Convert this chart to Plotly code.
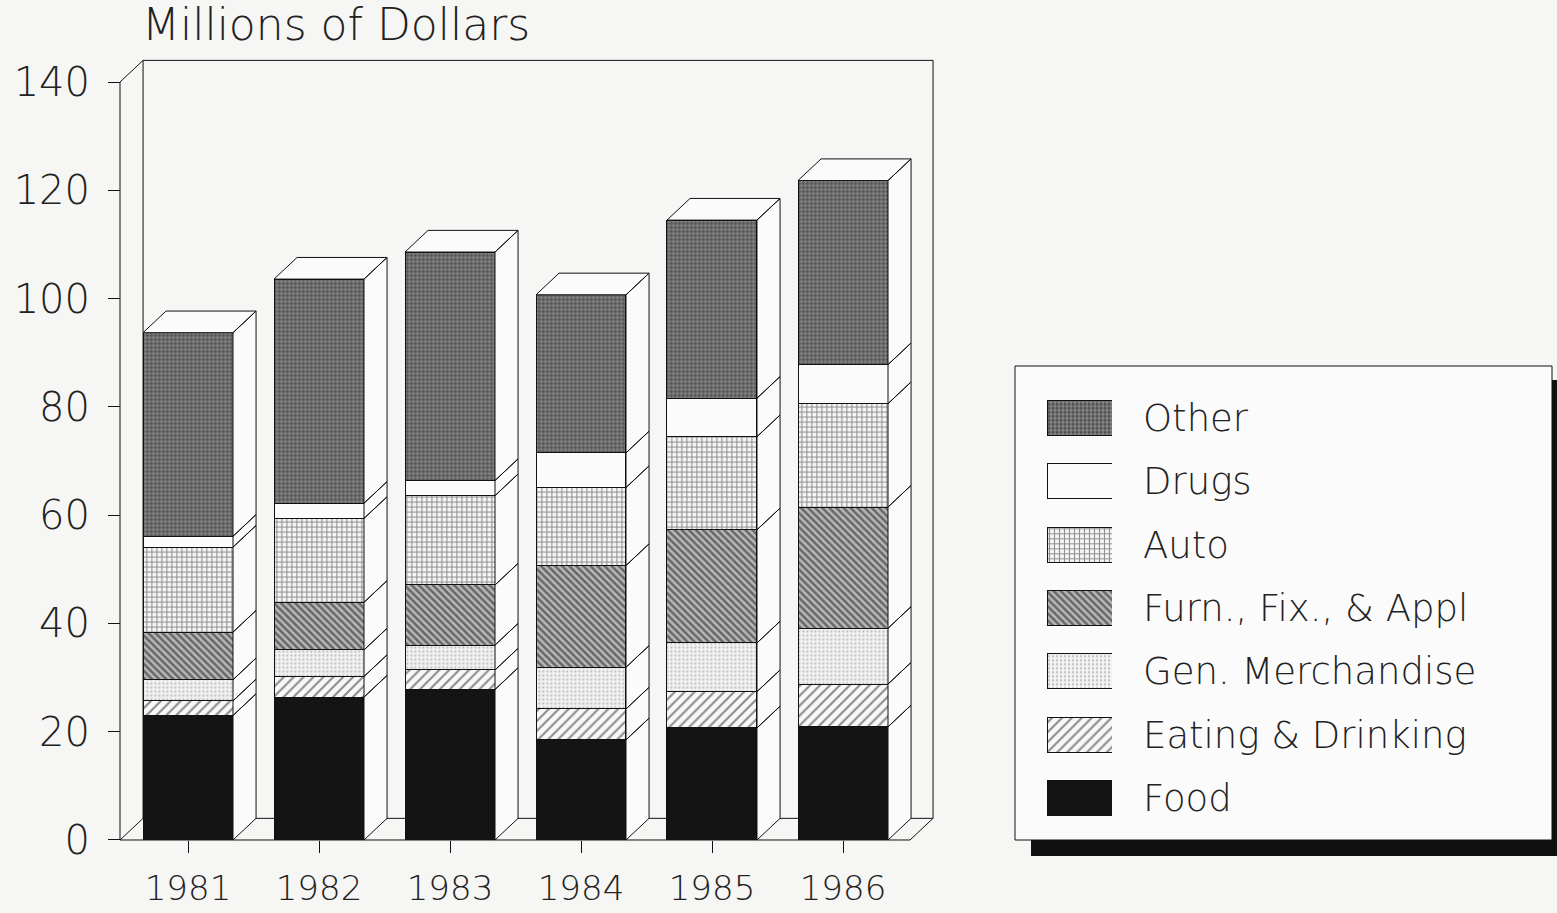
import plotly.graph_objects as go

# data (millions of dollars)
years = ["1981", "1982", "1983", "1984", "1985", "1986"]
food = [23.0, 26.4, 27.8, 18.5, 20.7, 20.9]
eating = [2.7, 3.8, 3.6, 5.7, 6.7, 7.9]
gen_merch = [3.9, 4.9, 4.6, 7.7, 9.0, 10.3]
furn = [8.8, 8.8, 11.1, 18.8, 20.9, 22.4]
auto = [15.7, 15.5, 16.5, 14.4, 17.2, 19.1]
drugs = [2.0, 2.8, 2.8, 6.4, 7.1, 7.2]
other = [37.6, 41.4, 42.2, 29.2, 32.9, 34.0]

series_names = ["Food", "Eating & Drinking", "Gen. Merchandise",
                "Furn., Fix., & Appl", "Auto", "Drugs", "Other"]
series_vals = [food, eating, gen_merch, furn, auto, drugs, other]
y_ticks = [0, 20, 40, 60, 80, 100, 120, 140]

W, H = 1557, 913
FONT = "DejaVu Sans"
BG = "#f6f6f4"

# fill patterns, same order as series_names
patterns = [
    dict(shape="", fgcolor="#141414", bgcolor="#141414"),
    dict(shape="/", fgcolor="#222222", bgcolor="#f8f8f8", size=7, solidity=0.3),
    dict(shape=".", fgcolor="#8a8a8a", bgcolor="#f2f2f2", size=4, solidity=0.25),
    dict(shape="\\", fgcolor="#151515", bgcolor="#b8b8b8", size=5, solidity=0.5),
    dict(shape="+", fgcolor="#2a2a2a", bgcolor="#f6f6f6", size=5, solidity=0.4),
    dict(shape="", fgcolor="#fbfbfb", bgcolor="#fbfbfb"),
    dict(shape=".", fgcolor="#1a1a1a", bgcolor="#8c8c8c", size=4, solidity=0.6),
]

# pixel geometry of the pseudo-3D frame
X0_PX, STEP_PX = 188, 131          # centre of first bar, spacing
Y0_PX, PX_PER_UNIT = 840, 5.414    # y=0 pixel, pixels per million
BAR_W = 0.687
DX, DY = 0.176, 4.0                # depth offset in data units

x_rng = [-0.60, 5.75]
y_rng = [-1.0, 146.0]
xd = [(X0_PX + STEP_PX * x_rng[0]) / W, (X0_PX + STEP_PX * x_rng[1]) / W]
yd = [1 - (Y0_PX + PX_PER_UNIT * 1.0) / H, 1 - (Y0_PX - PX_PER_UNIT * y_rng[1]) / H]

X_LEFT = (120 - X0_PX) / STEP_PX       # front y axis
X_RIGHT = X_LEFT + (910 - 120) / STEP_PX

fig = go.Figure()

xs = list(range(len(years)))
for name, vals, pat in zip(series_names, series_vals, patterns):
    fig.add_trace(go.Bar(
        x=xs, y=vals, name=name, width=BAR_W,
        marker=dict(color=pat["bgcolor"], pattern=pat,
                    line=dict(color="#111111", width=1)),
        showlegend=False, xaxis="x", yaxis="y",
    ))

# side and top faces
fx, fy = [], []
for i in xs:
    xr = i + BAR_W / 2
    xl = i - BAR_W / 2
    base = 0.0
    for vals in series_vals:
        top = base + vals[i]
        fx += [xr, xr + DX, xr + DX, xr, xr, None]
        fy += [base, base + DY, top + DY, top, base, None]
        base = top
    fx += [xl, xl + DX, xr + DX, xr, xl, None]
    fy += [base, base + DY, base + DY, base, base, None]

fig.add_trace(go.Scatter(
    x=fx, y=fy, mode="lines", fill="toself", fillcolor="#fbfbfb",
    line=dict(color="#111111", width=1), hoverinfo="skip",
    showlegend=False, xaxis="x", yaxis="y",
))

# frame: back wall, floor and front axis lines
line_style = dict(color="#111111", width=1)
ymax = y_ticks[-1]
shapes = [
    dict(type="rect", xref="x", yref="y", x0=X_LEFT + DX, x1=X_RIGHT + DX,
         y0=DY, y1=ymax + DY, line=line_style, layer="below"),
    dict(type="path", xref="x", yref="y",
         path=f"M{X_LEFT},0 L{X_LEFT},{ymax} L{X_LEFT + DX},{ymax + DY}",
         line=line_style, layer="below"),
    dict(type="path", xref="x", yref="y",
         path=f"M{X_LEFT + DX},{DY} L{X_LEFT},0 L{X_RIGHT},0 L{X_RIGHT + DX},{DY}",
         line=line_style, layer="below"),
]

# legend box with drop shadow
lb = (1015, 366, 1552, 840)
shapes += [
    dict(type="rect", xref="paper", yref="paper",
         x0=(lb[0] + 16) / W, x1=(lb[2] + 16) / W,
         y0=1 - (lb[3] + 16) / H, y1=1 - (lb[1] + 14) / H,
         fillcolor="#111111", line=dict(width=0), layer="below"),
    dict(type="rect", xref="paper", yref="paper",
         x0=lb[0] / W, x1=lb[2] / W, y0=1 - lb[3] / H, y1=1 - lb[1] / H,
         fillcolor="#fbfbfb", line=line_style, layer="below"),
]

# legend swatches as a small horizontal bar panel
leg_y = list(range(len(series_names)))
for name, pat, yy in zip(series_names, patterns, leg_y):
    fig.add_trace(go.Bar(
        x=[1], y=[yy], orientation="h", width=0.55,
        marker=dict(color=pat["bgcolor"], pattern=pat,
                    line=dict(color="#111111", width=1)),
        showlegend=False, xaxis="x2", yaxis="y2", hoverinfo="skip",
    ))

leg_step = 63.33
leg_top_px = 418 - leg_step / 2
leg_bot_px = 798 + leg_step / 2

fig.update_layout(
    width=W, height=H, autosize=False,
    margin=dict(l=0, r=0, t=0, b=0, pad=0),
    paper_bgcolor=BG, plot_bgcolor="rgba(0,0,0,0)",
    barmode="stack",
    font=dict(family=FONT, color="#222222", weight=200),
    shapes=shapes,
    xaxis=dict(
        domain=xd, range=x_rng, tickvals=xs, ticktext=years,
        ticks="outside", ticklen=12, tickcolor="#111111",
        tickfont=dict(size=34), showgrid=False, zeroline=False,
        showline=False, anchor="free", position=1 - Y0_PX / H,
        ticklabelstandoff=6, fixedrange=True, automargin=False,
    ),
    yaxis=dict(
        domain=yd, range=y_rng, tickvals=y_ticks,
        ticks="outside", ticklen=12, tickcolor="#111111",
        tickfont=dict(size=40), showgrid=False, zeroline=False,
        showline=False, anchor="free", position=120 / W,
        ticklabelstandoff=10, fixedrange=True, automargin=False,
    ),
    xaxis2=dict(
        domain=[1047 / W, 1112 / W], range=[0, 1], visible=False,
        anchor="y2", fixedrange=True, automargin=False,
    ),
    yaxis2=dict(
        domain=[1 - leg_bot_px / H, 1 - leg_top_px / H],
        range=[-0.5, len(series_names) - 0.5],
        tickvals=leg_y, ticktext=series_names, side="right",
        ticks="", showgrid=False, zeroline=False, showline=False,
        tickfont=dict(size=37), ticklabelstandoff=30,
        anchor="x2", fixedrange=True, automargin=False,
    ),
    annotations=[dict(
        text="Millions of Dollars", xref="paper", yref="paper",
        x=140 / W, y=1 - 25 / H, xanchor="left", yanchor="middle",
        showarrow=False, font=dict(size=44),
    )],
)

fig.write_html("out.html", config={"responsive": False, "displayModeBar": False},
               post_script="document.body.style.margin = '0';")
